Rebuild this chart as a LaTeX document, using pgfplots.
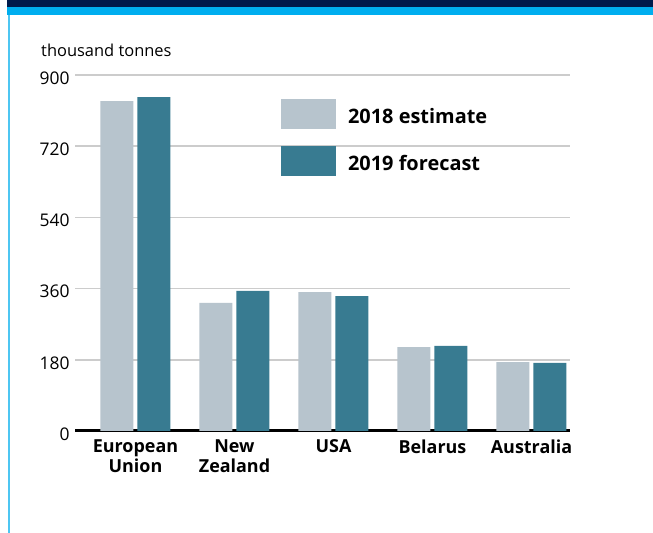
\documentclass[border=0pt]{standalone}
\usepackage{pgfplots}
\pgfplotsset{compat=1.18}
\usepackage{fontspec}
\setmainfont{Open Sans}

\definecolor{navyband}{HTML}{001A4B}
\definecolor{cyanband}{HTML}{00AEEF}
\definecolor{leftline}{HTML}{4DC6F2}
\definecolor{est}{HTML}{B7C4CD}
\definecolor{fc}{HTML}{387B91}
\definecolor{gridgray}{HTML}{CCCCCC}

\begin{document}
\begin{tikzpicture}[x=1bp,y=1bp]
% page and frame
\fill[white] (0,0) rectangle (653,533);
\fill[navyband] (7,526) rectangle (653,533);
\fill[cyanband] (7,518) rectangle (653,526);
\fill[leftline] (8,0) rectangle (10,518);

\node[anchor=base west, inner sep=0pt, font=\fontsize{16.5}{18}\selectfont] at (41,476.5) {thousand tonnes};

\begin{axis}[
    at={(75bp,102bp)}, anchor=south west,
    scale only axis, width=495bp, height=356bp,
    xmin=-0.611, xmax=4.389, ymin=0, ymax=900,
    ybar=4bp, bar width=33bp,
    axis x line*=bottom, axis y line*=left,
    x axis line style={-, black, line width=3bp},
    y axis line style={draw=none},
    major tick length=0pt,
    xtick={0,1,2,3,4},
    xticklabels={{European\\Union},{New\\Zealand},USA,Belarus,Australia},
    xticklabel style={align=center, font=\bfseries\fontsize{18}{20}\selectfont, yshift=-5bp},
    ytick={0,180,360,540,720,900},
    yticklabel style={font=\fontsize{17.5}{18}\selectfont, yshift=-3bp, xshift=-2bp},
    /pgf/number format/assume math mode=true,
    ymajorgrids=true,
    grid style={gridgray, line width=1.5bp},
    legend image code/.code={\fill[#1] (0bp,-12bp) rectangle (55bp,18bp);},
    legend style={draw=none, fill=none, inner sep=0pt, at={(0.416,0.933)}, anchor=north west,
        row sep=17bp, font=\bfseries\fontsize{20}{22}\selectfont,
        /tikz/every odd column/.append style={column sep=10bp}},
    legend cell align=left,
]
\addplot[fill=est, draw=none] coordinates {(0,834) (1,324) (2,351) (3,212) (4,174)};
\addplot[fill=fc, draw=none] coordinates {(0,844) (1,354) (2,341) (3,215) (4,172)};
\legend{2018 estimate, 2019 forecast}
\end{axis}
\end{tikzpicture}
\end{document}
